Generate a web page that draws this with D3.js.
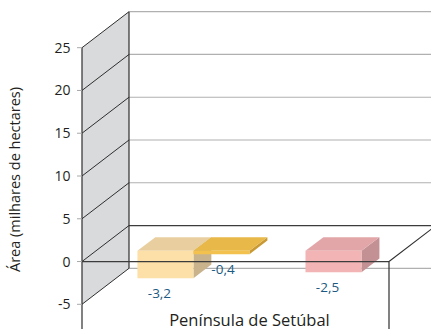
<!DOCTYPE html>
<html>
<head>
<meta charset="utf-8">
<script src="https://cdn.jsdelivr.net/npm/d3@7"></script>
<style>
  html, body { margin: 0; padding: 0; background: #fff; }
  svg { display: block; }
  text { font-family: "Open Sans", "Noto Sans", sans-serif; }
</style>
</head>
<body>
<div id="chart"></div>
<script>
// Chart data
const category = "Península de Setúbal";
const seriesKeys = ["s1", "s2", "s3", "s4"];
const seriesValues = [-3.2, -0.4, null, -2.5];
const seriesLabels = ["-3,2", "-0,4", "", "-2,5"];
const tickValues = [-5, 0, 5, 10, 15, 20, 25];
const tickLabels = ["-5", "0", "5", "10", "15", "20", "25"];
const axisTitle = "Área (milhares de hectares)";

const seriesFront = ["#fce0a7", "#f3c24e", "#cccccc", "#f2b4b5"];
const seriesTop   = ["#e9cf9f", "#e8b949", "#bbbbbb", "#e2a6a9"];
const seriesSide  = ["#c8b38c", "#c99a34", "#999999", "#c39194"];

const W = 431, H = 329;
const svg = d3.select("#chart").append("svg")
  .attr("width", W).attr("height", H);

// Oblique projection: depth d in [0,1] shifts right and up
const DX = 47, DY = 36;
const y = d3.scaleLinear().domain([-5, 25]).range([304.3, 47.7]);
const x = d3.scaleBand().domain(seriesKeys).range([82, 389])
  .paddingInner(0).paddingOuter(0.74);
const P = (px, v, d) => [px + d * DX, y(v) - d * DY];
const line = d3.line();

const xL = x.range()[0], xR = x.range()[1];
const vMin = y.domain()[0], vMax = y.domain()[1];

// Left side wall
svg.append("path")
  .attr("d", line([P(xL, vMax, 0), P(xL, vMax, 1), P(xL, vMin, 1), P(xL, vMin, 0)]) + "Z")
  .attr("fill", "#d9dadc");

// Back wall gridlines
tickValues.forEach(v => {
  if (v === 0) return;
  const a = P(xL, v, 1);
  svg.append("line")
    .attr("x1", a[0]).attr("y1", a[1]).attr("x2", W).attr("y2", a[1])
    .attr("stroke", "#b0b0b0").attr("stroke-width", 1.2);
});
// Back wall zero line
{
  const a = P(xL, 0, 1);
  svg.append("line")
    .attr("x1", a[0]).attr("y1", a[1]).attr("x2", W).attr("y2", a[1])
    .attr("stroke", "#3c3c3c").attr("stroke-width", 1.3);
}

// Wall diagonals at each tick
tickValues.forEach(v => {
  svg.append("path")
    .attr("d", line([P(xL, v, 0), P(xL, v, 1)]))
    .attr("stroke", "#2e2e2e").attr("stroke-width", 1).attr("fill", "none");
});
// Wall edges
svg.append("path").attr("d", line([P(xL, vMax, 1), P(xL, vMin, 1)]))
  .attr("stroke", "#2e2e2e").attr("stroke-width", 1.2).attr("fill", "none");
svg.append("path").attr("d", line([P(xL, vMax, 0), [xL, H]]))
  .attr("stroke", "#2e2e2e").attr("stroke-width", 1.2).attr("fill", "none");

// Tick marks and labels
tickValues.forEach((v, i) => {
  svg.append("line")
    .attr("x1", xL - 5).attr("x2", xL).attr("y1", y(v)).attr("y2", y(v))
    .attr("stroke", "#a8a8a8").attr("stroke-width", 1);
  svg.append("text")
    .attr("x", xL - 11.5).attr("y", y(v) + 5)
    .attr("text-anchor", "end").attr("font-size", 14).attr("fill", "#231f20")
    .text(tickLabels[i]);
});

// 3D bars, drawn left to right
const d0 = 0.297, d1 = 0.678;
const bars = svg.append("g");
const labelsG = svg.append("g");
seriesKeys.forEach((k, i) => {
  const v = seriesValues[i];
  if (v == null) return;
  const x0 = x(k), x1 = x(k) + x.bandwidth();
  const top = Math.max(0, v), bot = Math.min(0, v);
  bars.append("path")
    .attr("d", line([P(x1, top, d0), P(x1, top, d1), P(x1, bot, d1), P(x1, bot, d0)]) + "Z")
    .attr("fill", seriesSide[i]);
  bars.append("path")
    .attr("d", line([P(x0, top, d0), P(x1, top, d0), P(x1, top, d1), P(x0, top, d1)]) + "Z")
    .attr("fill", seriesTop[i]);
  bars.append("path")
    .attr("d", line([P(x0, top, d0), P(x1, top, d0), P(x1, bot, d0), P(x0, bot, d0)]) + "Z")
    .attr("fill", seriesFront[i]);
});

// Front floor edge (zero line) over the bars
svg.append("path").attr("d", line([P(xL, 0, 0), P(xR, 0, 0)]))
  .attr("stroke", "#3c3c3c").attr("stroke-width", 1.3).attr("fill", "none");
svg.append("path").attr("d", line([P(xR, 0, 0), P(xR, 0, 1)]))
  .attr("stroke", "#2e2e2e").attr("stroke-width", 1.1).attr("fill", "none");
svg.append("path").attr("d", line([P(xR, 0, 0), [xR, H]]))
  .attr("stroke", "#2e2e2e").attr("stroke-width", 1.2).attr("fill", "none");

// Value labels under each bar, kept clear of the neighbouring bar's side face
let prevSideX = -Infinity;
seriesKeys.forEach((k, i) => {
  const v = seriesValues[i];
  if (v == null) return;
  const x0 = x(k), x1 = x(k) + x.bandwidth();
  const bot = Math.min(0, v);
  const front = P(x0, bot, d0);
  const faceCenter = (P(x0, 0, d0)[0] + P(x1, 0, d0)[0]) / 2;
  const t = labelsG.append("text")
    .attr("text-anchor", "middle").attr("font-size", 13.5).attr("fill", "#1c5a82")
    .attr("y", front[1] + 20)
    .text(seriesLabels[i]);
  const half = t.node().getComputedTextLength() / 2;
  const cx = Math.max(faceCenter - 6, prevSideX + half);
  t.attr("x", cx);
  prevSideX = P(x1, 0, d1)[0];
});

// Category label
{
  const cx = (xL + xR) / 2 + d0 * DX;
  svg.append("text")
    .attr("x", cx).attr("y", 325.5)
    .attr("text-anchor", "middle").attr("font-size", 16.5).attr("fill", "#231f20")
    .text(category);
}

// Axis title
svg.append("text")
  .attr("transform", "translate(20,179.5) rotate(-90)")
  .attr("text-anchor", "middle").attr("font-size", 14.5).attr("fill", "#231f20")
  .text(axisTitle);
</script>
</body>
</html>
